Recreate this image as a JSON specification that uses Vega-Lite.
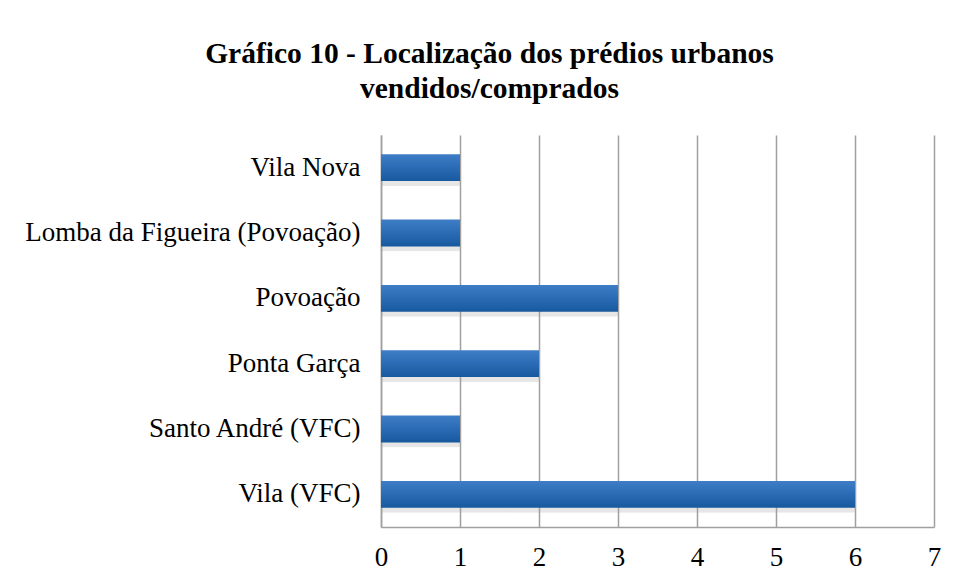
{
  "$schema": "https://vega.github.io/schema/vega-lite/v6.json",
  "width": 553,
  "height": 392,
  "autosize": "none",
  "padding": {"left": 381, "top": 135, "right": 23, "bottom": 56},
  "background": "white",
  "title": {
    "text": ["Gráfico 10 - Localização dos prédios urbanos", "vendidos/comprados"],
    "font": "Liberation Serif",
    "fontSize": 29.5,
    "fontWeight": "bold",
    "color": "#000000",
    "anchor": "middle",
    "frame": "group",
    "dx": -168,
    "offset": 31,
    "lineHeight": 35
  },
  "config": {
    "view": {"stroke": null},
    "axis": {
      "labelFont": "Liberation Serif",
      "labelFontSize": 27,
      "labelColor": "#000000",
      "ticks": false,
      "domainColor": "#a0a0a0",
      "domainWidth": 1.5,
      "gridColor": "#a0a0a0",
      "gridWidth": 1.5,
      "title": null
    }
  },
  "data": {
    "values": [
      {"local": "Vila Nova", "n": 1},
      {"local": "Lomba da Figueira (Povoação)", "n": 1},
      {"local": "Povoação", "n": 3},
      {"local": "Ponta Garça", "n": 2},
      {"local": "Santo André (VFC)", "n": 1},
      {"local": "Vila (VFC)", "n": 6}
    ]
  },
  "encoding": {
    "y": {
      "field": "local",
      "type": "nominal",
      "sort": null,
      "scale": {"paddingInner": 0.59, "paddingOuter": 0.295},
      "axis": {"labelPadding": 21, "grid": false, "labelLimit": 400}
    },
    "x": {
      "field": "n",
      "type": "quantitative",
      "scale": {"domain": [0, 7], "nice": false},
      "axis": {"values": [0, 1, 2, 3, 4, 5, 6, 7], "labelPadding": 17, "labelFlush": false, "grid": true, "format": "d"}
    }
  },
  "layer": [
    {
      "mark": {"type": "bar", "color": "#9a9a9a", "opacity": 0.25, "yOffset": 5, "cornerRadius": 2}
    },
    {
      "mark": {
        "type": "bar",
        "color": {
          "gradient": "linear",
          "x1": 0, "y1": 0, "x2": 0, "y2": 1,
          "stops": [
            {"offset": 0, "color": "#3f7ec6"},
            {"offset": 0.5, "color": "#2b6bb5"},
            {"offset": 1, "color": "#17599e"}
          ]
        }
      }
    }
  ]
}
